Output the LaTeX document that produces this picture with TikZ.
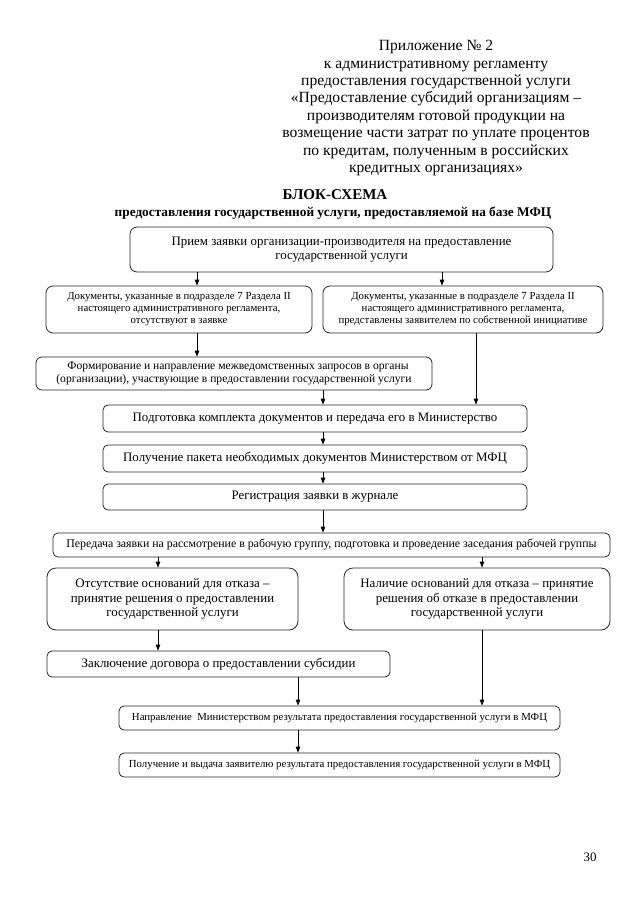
\documentclass[tikz,border=0pt]{standalone}
\usepackage{fontspec}
\setmainfont{Liberation Serif}
\usepackage{tikz}
\usetikzlibrary{arrows.meta,calc}

\newcommand{\fs}[1]{\fontsize{#1}{1.12\dimexpr#1pt\relax}\selectfont}

\begin{document}
\begin{tikzpicture}[x=1pt,y=-1pt,inner sep=1pt,
  box/.style={draw=black!85,line width=0.8pt,rounded corners=7pt,align=center,
    inner sep=0pt,font=\fs{12.9}},
  arr/.style={line width=0.9pt,-{Triangle[length=6pt,width=4.5pt]}}]

\useasboundingbox (0,0) rectangle (640,905);

% header
\node[align=center,font=\fontsize{15.6}{17.4}\selectfont] (hdr) at (436,108)
  {Приложение № 2\\к административному регламенту\\предоставления государственной услуги\\
   «Предоставление субсидий организациям –\\производителям готовой продукции на\\
   возмещение части затрат по уплате процентов\\по кредитам, полученным в российских\\
   кредитных организациях»};
\node[font=\fs{15}\bfseries] (ttl) at (335,195) {БЛОК-СХЕМА};
\node[font=\fs{13.3}\bfseries] (sub) at (333,213)
  {предоставления государственной услуги, предоставляемой на базе МФЦ};

% boxes
\node[box,minimum width=423,minimum height=45] (b1) at (341.5,249.5)
  {Прием заявки организации-производителя на предоставление\\государственной услуги};
\node[box,minimum width=266,minimum height=47,font=\fs{10.8}] (b2a) at (179,309.5)
  {Документы, указанные в подразделе 7 Раздела II\\настоящего административного регламента,\\отсутствуют в заявке};
\node[box,minimum width=280,minimum height=47,font=\fs{10.8}] (b2b) at (463,309.5)
  {Документы, указанные в подразделе 7 Раздела II\\настоящего административного регламента,\\представлены заявителем по собственной инициативе};
\node[box,minimum width=396,minimum height=33,rounded corners=6pt,font=\fs{11.6}] (b3) at (234,373.5)
  {\hspace*{8pt}Формирование и направление межведомственных запросов в органы\\(организации), участвующие в предоставлении государственной услуги};
\node[box,minimum width=424,minimum height=27,rounded corners=5pt] (b4) at (315,418.5)
  {Подготовка комплекта документов и передача его в Министерство};
\node[box,minimum width=424,minimum height=27,rounded corners=5pt] (b5) at (315,458.5)
  {Получение пакета необходимых документов Министерством от МФЦ};
\node[box,minimum width=424,minimum height=26,rounded corners=5pt] (b6) at (315,497)
  {Регистрация заявки в журнале};
\node[box,minimum width=557,minimum height=24,rounded corners=5pt,font=\fs{11.85}] (b7) at (331.5,545)
  {Передача заявки на рассмотрение в рабочую группу, подготовка и проведение заседания рабочей группы};
\node[box,minimum width=251,minimum height=62,rounded corners=9pt] (b8a) at (172.5,599)
  {Отсутствие оснований для отказа –\\принятие решения о предоставлении\\государственной услуги};
\node[box,minimum width=266,minimum height=62,rounded corners=9pt] (b8b) at (477,599)
  {Наличие оснований для отказа – принятие\\решения об отказе в предоставлении\\государственной услуги};
\node[box,minimum width=343,minimum height=26,rounded corners=5pt] (b9) at (218.5,664)
  {Заключение договора о предоставлении субсидии};
\node[box,minimum width=441,minimum height=24,rounded corners=5pt,font=\fs{10.8}] (b10) at (339.5,718)
  {Направление\ \ Министерством результата предоставления государственной услуги в МФЦ};
\node[box,minimum width=441,minimum height=24,rounded corners=5pt,font=\fs{10.8}] (b11) at (339.5,765)
  {Получение и выдача заявителю результата предоставления государственной услуги в МФЦ};

\node[font=\fs{12.9}] (pg) at (590,857) {30};

% arrow columns
\coordinate (xA) at (197,0);
\coordinate (xB) at (442,0);
\coordinate (xC) at (476,0);
\coordinate (xD) at (323,0);
\coordinate (xE) at (158,0);
\coordinate (xF) at (482,0);
\coordinate (xG) at (298,0);

\path[arr]
  (b1.south -| xA) edge (b2a.north -| xA)
  (b1.south -| xB) edge (b2b.north -| xB)
  (b2a.south -| xA) edge (b3.north -| xA)
  (b2b.south -| xC) edge (b4.north -| xC)
  (b3.south -| xD) edge (b4.north -| xD)
  (b4.south -| xD) edge (b5.north -| xD)
  (b5.south -| xD) edge (b6.north -| xD)
  (b6.south -| xD) edge (b7.north -| xD)
  (b7.south -| xE) edge (b8a.north -| xE)
  (b7.south -| xF) edge (b8b.north -| xF)
  (b8a.south -| xE) edge (b9.north -| xE)
  (b9.south -| xG) edge (b10.north -| xG)
  (b8b.south -| xF) edge (b10.north -| xF)
  (b10.south -| xG) edge (b11.north -| xG);

\end{tikzpicture}
\end{document}
